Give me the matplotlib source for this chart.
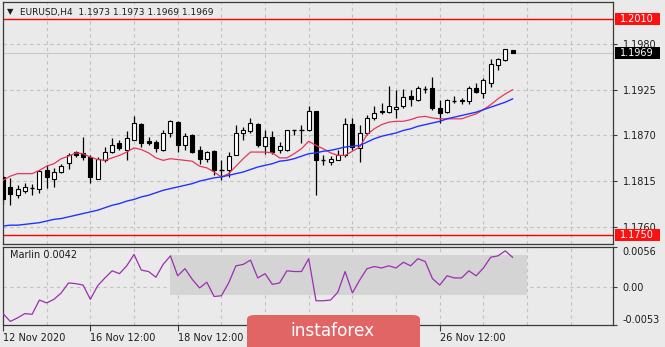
import matplotlib
matplotlib.use('Agg')
import matplotlib.pyplot as plt
import matplotlib.transforms as mtransforms
from matplotlib.patches import Rectangle, FancyBboxPatch
import numpy as np

# EURUSD H4 candles
opens = [1.1820, 1.1808, 1.1798, 1.1803, 1.1807, 1.1806, 1.1828, 1.1818, 1.1826, 1.1837,
         1.1850, 1.1849, 1.1844, 1.1818, 1.1840, 1.1850, 1.1861, 1.1853, 1.1865, 1.1884,
         1.1863, 1.1862, 1.1852, 1.1873, 1.1886, 1.1858, 1.1871, 1.1852, 1.1842, 1.1851,
         1.1828, 1.1828, 1.1847, 1.1873, 1.1875, 1.1884, 1.1857, 1.1868, 1.1852, 1.1852,
         1.1876, 1.1877, 1.1876, 1.1899, 1.1841, 1.1838, 1.1841, 1.1847, 1.1884, 1.1855,
         1.1873, 1.1891, 1.1899, 1.1898, 1.1902, 1.1905, 1.1917, 1.1913, 1.1926, 1.1927,
         1.1903, 1.1898, 1.1911, 1.1911, 1.1911, 1.1927, 1.1921, 1.1933, 1.1955, 1.1961,
         1.1973]
highs = [1.1822, 1.1819, 1.1810, 1.1813, 1.1812, 1.1828, 1.1834, 1.1831, 1.1836, 1.1849,
         1.1851, 1.1868, 1.1846, 1.1844, 1.1856, 1.1867, 1.1865, 1.1875, 1.1893, 1.1885,
         1.1868, 1.1865, 1.1877, 1.1889, 1.1887, 1.1873, 1.1872, 1.1857, 1.1851, 1.1852,
         1.1840, 1.1850, 1.1883, 1.1880, 1.1891, 1.1885, 1.1877, 1.1875, 1.1862, 1.1877,
         1.1877, 1.1883, 1.1906, 1.1900, 1.1847, 1.1845, 1.1852, 1.1891, 1.1891, 1.1883,
         1.1895, 1.1905, 1.1909, 1.1930, 1.1925, 1.1926, 1.1925, 1.1929, 1.1929, 1.1940,
         1.1913, 1.1914, 1.1917, 1.1915, 1.1929, 1.1933, 1.1939, 1.1962, 1.1963, 1.1974,
         1.1973]
lows = [1.1787, 1.1786, 1.1795, 1.1801, 1.1798, 1.1801, 1.1807, 1.1808, 1.1825, 1.1830,
        1.1844, 1.1840, 1.1813, 1.1817, 1.1838, 1.1849, 1.1853, 1.1840, 1.1865, 1.1856,
        1.1858, 1.1850, 1.1851, 1.1868, 1.1850, 1.1852, 1.1849, 1.1836, 1.1838, 1.1822,
        1.1816, 1.1820, 1.1846, 1.1864, 1.1873, 1.1856, 1.1848, 1.1848, 1.1849, 1.1851,
        1.1871, 1.1861, 1.1875, 1.1798, 1.1835, 1.1835, 1.1840, 1.1844, 1.1853, 1.1838,
        1.1871, 1.1889, 1.1896, 1.1897, 1.1891, 1.1903, 1.1905, 1.1912, 1.1921, 1.1901,
        1.1885, 1.1897, 1.1909, 1.1908, 1.1908, 1.1921, 1.1915, 1.1928, 1.1949, 1.1960,
        1.1969]
closes = [1.1793, 1.1800, 1.1806, 1.1808, 1.1807, 1.1827, 1.1820, 1.1826, 1.1833, 1.1847,
          1.1846, 1.1844, 1.1820, 1.1842, 1.1850, 1.1859, 1.1855, 1.1867, 1.1885, 1.1861,
          1.1861, 1.1855, 1.1873, 1.1887, 1.1858, 1.1869, 1.1850, 1.1842, 1.1850, 1.1828,
          1.1828, 1.1845, 1.1873, 1.1876, 1.1885, 1.1858, 1.1868, 1.1850, 1.1857, 1.1876,
          1.1876, 1.1877, 1.1899, 1.1840, 1.1841, 1.1842, 1.1847, 1.1884, 1.1856, 1.1873,
          1.1891, 1.1897, 1.1898, 1.1905, 1.1904, 1.1916, 1.1914, 1.1927, 1.1926, 1.1903,
          1.1897, 1.1913, 1.1911, 1.1913, 1.1927, 1.1922, 1.1937, 1.1956, 1.1962, 1.1974,
          1.1969]

# moving averages as drawn on the chart
ma_fast = [1.1816, 1.1821, 1.1824, 1.1824, 1.1824, 1.1828, 1.1833, 1.1836, 1.1842, 1.1845,
           1.1849, 1.1848, 1.1844, 1.1841, 1.1840, 1.1843, 1.1846, 1.1850, 1.1855, 1.1853,
           1.1849, 1.1843, 1.1840, 1.1842, 1.1841, 1.1840, 1.1839, 1.1833, 1.1831, 1.1826,
           1.1820, 1.1824, 1.1833, 1.1842, 1.1850, 1.1850, 1.1850, 1.1849, 1.1843, 1.1843,
           1.1848, 1.1854, 1.1863, 1.1858, 1.1854, 1.1849, 1.1846, 1.1846, 1.1851, 1.1856,
           1.1871, 1.1878, 1.1883, 1.1886, 1.1887, 1.1887, 1.1889, 1.1892, 1.1893, 1.1891,
           1.1890, 1.1890, 1.1890, 1.1890, 1.1893, 1.1896, 1.1901, 1.1907, 1.1914, 1.1920,
           1.1925]
ma_slow = [1.1761, 1.1762, 1.1762, 1.1763, 1.1764, 1.1765, 1.1767, 1.1769, 1.1770, 1.1772,
           1.1774, 1.1776, 1.1778, 1.1780, 1.1783, 1.1786, 1.1788, 1.1791, 1.1793, 1.1796,
           1.1798, 1.1801, 1.1804, 1.1806, 1.1808, 1.1810, 1.1812, 1.1815, 1.1817, 1.1819,
           1.1820, 1.1822, 1.1824, 1.1826, 1.1829, 1.1832, 1.1834, 1.1836, 1.1839, 1.1840,
           1.1842, 1.1845, 1.1848, 1.1849, 1.1851, 1.1852, 1.1854, 1.1856, 1.1857, 1.1858,
           1.1862, 1.1866, 1.1869, 1.1871, 1.1873, 1.1876, 1.1878, 1.1881, 1.1883, 1.1885,
           1.1887, 1.1890, 1.1892, 1.1894, 1.1896, 1.1898, 1.1901, 1.1904, 1.1907, 1.1910,
           1.1914]

# Marlin oscillator
marlin = [-0.0037, -0.0048, -0.0043, -0.0037, -0.0038, -0.0018, -0.0022, -0.0017, -0.0008, 0.0006,
          0.0005, 0.0003, -0.0017, 0.0002, 0.0013, 0.0023, 0.0019, 0.0030, 0.0046, 0.0024,
          0.0022, 0.0014, 0.0032, 0.0044, 0.0016, 0.0026, 0.0011, -0.0001, 0.0007, -0.0013,
          -0.0012, 0.0006, 0.0030, 0.0032, 0.0038, 0.0013, 0.0019, 0.0004, 0.0006, 0.0023,
          0.0022, 0.0022, 0.0040, -0.0019, -0.0019, -0.0018, -0.0007, 0.0022, -0.0008, 0.0010,
          0.0026, 0.0029, 0.0027, 0.0030, 0.0027, 0.0035, 0.0030, 0.0040, 0.0036, 0.0012,
          0.0003, 0.0016, 0.0013, 0.0013, 0.0023, 0.0016, 0.0027, 0.0042, 0.0044, 0.0051,
          0.0042]

price_ticks = [1.1980, 1.1925, 1.1870, 1.1815, 1.1760]
level_lines = [1.2010, 1.1750]
last_price = 1.1969
marlin_ticks = [0.0056, 0.0, -0.0053]
marlin_tick_labels = ['0.0056', '0.00', '-0.0053']
zone = [0.0045, -0.0011]  # grey box on the oscillator
zone_bars = [23, 72]
# labels at bars 36 and 48 sit under the logo badge, so they stay blank
date_pos = [0, 12, 24, 36, 48, 60]
date_labels = ['12 Nov 2020', '16 Nov 12:00', '18 Nov 12:00', '', '', '26 Nov 12:00']
grid_pos = list(range(6, 84, 6))

BG = '#eaeaea'
GRID = '#c2c2c2'
FRAME = '#3a3a3a'
TXT = '#1c1c1c'
FS = 7

fig = plt.figure(figsize=(6.65, 3.47), dpi=100, facecolor=BG)
ax = fig.add_axes([3 / 665, 103 / 347, 610 / 665, 242 / 347], facecolor=BG)
ax2 = fig.add_axes([3 / 665, 22 / 347, 610 / 665, 78 / 347], facecolor=BG)

x = np.arange(len(opens))
xmax = 83.8

for a in (ax, ax2):
    a.set_xlim(0, xmax)
    for s in a.spines.values():
        s.set_color(FRAME)
        s.set_linewidth(0.9)
    for g in grid_pos:
        a.axvline(g, color=GRID, lw=0.8, ls=(0, (3, 3)), zorder=0)

# ---- price panel ----
ax.set_ylim(1.173935, 1.203059)
for p in price_ticks:
    ax.axhline(p, color=GRID, lw=0.8, ls=(0, (3, 3)), zorder=0)
ax.axhline(last_price, color='#c8c8c8', lw=0.8, zorder=0.5)
for lv in level_lines:
    ax.axhline(lv, color='#ff0000', lw=1.0, zorder=1)

o = np.array(opens); c = np.array(closes)
h = np.array(highs); l = np.array(lows)
ax.vlines(x, l, h, color='black', lw=0.9, zorder=2)
body_lo = np.minimum(o, c)
body_h = np.abs(c - o)
doji = body_h < 0.00005
up = (c > o) & ~doji
dn = (c < o) & ~doji
ax.bar(x[up], body_h[up], bottom=body_lo[up], width=0.55, color='white',
       edgecolor='black', linewidth=0.8, zorder=3)
ax.bar(x[dn], body_h[dn], bottom=body_lo[dn], width=0.55, color='black',
       edgecolor='black', linewidth=0.8, zorder=3)
ax.hlines(o[doji], x[doji] - 0.3, x[doji] + 0.3, color='black', lw=1.0, zorder=3)

ax.plot(x, ma_fast, color='#e8365a', lw=0.9, zorder=4)
ax.plot(x, ma_slow, color='#2233ff', lw=1.0, zorder=4)

ax.yaxis.tick_right()
ax.set_yticks(price_ticks)
ax.set_yticklabels(['%.4f' % p for p in price_ticks])
ax.tick_params(axis='y', length=3, width=0.8, color=FRAME, pad=4,
               labelsize=FS, labelcolor=TXT)
ax.set_xticks([])

# price boxes at right edge
btf = mtransforms.blended_transform_factory(ax.transAxes, ax.transData)
box_px = 12 * (ax.get_ylim()[1] - ax.get_ylim()[0]) / 242
for val, col in [(level_lines[0], '#ff1010'), (level_lines[1], '#ff1010'), (last_price, 'black')]:
    ax.add_patch(Rectangle((612 / 610, val - box_px / 2), 45 / 610, box_px,
                           transform=btf, facecolor=col, edgecolor='none',
                           clip_on=False, zorder=10))
    ax.text(617 / 610, val, '%.4f' % val, transform=btf, color='white',
            fontsize=FS, va='center', ha='left', clip_on=False, zorder=11)

fig.text(7 / 665, 1 - 12 / 347, '\u25BC', fontsize=6, color=TXT, va='center')
fig.text(20 / 665, 1 - 12 / 347, 'EURUSD,H4  1.1973 1.1973 1.1969 1.1969',
         fontsize=6.5, color=TXT, va='center')

# ---- Marlin panel ----
ax2.set_ylim(-0.00527, 0.00564)
ax2.axhline(0, color=GRID, lw=0.8, ls=(0, (3, 3)), zorder=0)
ax2.add_patch(Rectangle((zone_bars[0], zone[1]), zone_bars[1] - zone_bars[0],
                        zone[0] - zone[1], facecolor='#d4d4d4', edgecolor='none', zorder=0.5))
ax2.plot(x, marlin, color='#9c2fb0', lw=0.9, zorder=3)
ax2.text(7 / 610, 0.90, 'Marlin 0.0042', transform=ax2.transAxes, fontsize=FS,
         color=TXT, va='center', ha='left')

ax2.yaxis.tick_right()
ax2.set_yticks(marlin_ticks)
ax2.set_yticklabels(marlin_tick_labels)
ax2.tick_params(axis='y', length=3, width=0.8, color=FRAME, pad=4,
                labelsize=FS, labelcolor=TXT)
ylabs = ax2.get_yticklabels()
ylabs[0].set_va('top')
ylabs[2].set_va('bottom')

ax2.set_xticks(date_pos)
ax2.set_xticklabels(date_labels, ha='left')
ax2.tick_params(axis='x', length=4, width=0.8, color=FRAME, pad=2,
                labelsize=FS, labelcolor=TXT)

# instaforex badge
badge = FancyBboxPatch((247 / 665, -0.05), 173 / 665, (347 - 315) / 347 + 0.05,
                       boxstyle='round,pad=0,rounding_size=0.012',
                       transform=fig.transFigure, facecolor='#e26565',
                       edgecolor='none', zorder=20)
fig.patches.append(badge)
fig.text(290 / 665, 1 - 331 / 347, 'instaforex', fontsize=12.2, color='white',
         va='center', ha='left', zorder=21)

fig.savefig('out.png', dpi=100, facecolor=BG)
